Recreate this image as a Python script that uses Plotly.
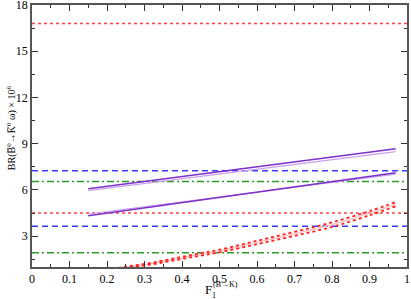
import plotly.graph_objects as go

# Horizontal reference levels
red_levels = [16.8, 4.5]
blue_levels = [7.25, 3.64]
green_levels = [6.55, 1.92]

# Purple bands (x from 0.15 to 0.97)
purple_x = [0.15, 0.97]
purple_up_dark = [6.08, 8.67]
purple_up_light = [5.95, 8.49]
purple_lo_dark = [4.33, 7.11]
purple_lo_light = [4.44, 7.02]

# Red curves
red_x = [0.15, 0.2, 0.25, 0.3, 0.35, 0.4, 0.45, 0.5, 0.6, 0.7, 0.8, 0.9, 0.97]
red_upper = [0.7, 0.85, 1.02, 1.2, 1.42, 1.66, 1.9, 2.12, 2.7, 3.28, 3.9, 4.62, 5.22]
red_lower = [0.65, 0.8, 0.95, 1.1, 1.3, 1.52, 1.74, 1.95, 2.48, 3.02, 3.6, 4.35, 4.94]
red_mid = [(a + b) / 2 for a, b in zip(red_upper, red_lower)]

x_ticks = [0, 0.1, 0.2, 0.3, 0.4, 0.5, 0.6, 0.7, 0.8, 0.9, 1]
x_labels = ["0", "0.1", "0.2", "0.3", "0.4", "0.5", "0.6", "0.7", "0.8", "0.9", "1"]
y_ticks = [3, 6, 9, 12, 15, 18]

fig = go.Figure()

def hline(y, color, dash, width=1.5):
    fig.add_trace(go.Scatter(x=[0, 1], y=[y, y], mode="lines",
                             line=dict(color=color, dash=dash, width=width),
                             showlegend=False, hoverinfo="skip"))

for y in red_levels:
    hline(y, "#ff4040", "dot", 1.6)
for y in blue_levels:
    hline(y, "#3a3aff", "6px,4px", 1.6)
for y in green_levels:
    hline(y, "#2a9a2a", "7px,3px,2px,3px", 1.4)

for ys, c, w in [(purple_up_light, "#c8a0ec", 1.2), (purple_up_dark, "#7e30c8", 1.5),
                 (purple_lo_light, "#c8a0ec", 1.2), (purple_lo_dark, "#7e30c8", 1.5)]:
    fig.add_trace(go.Scatter(x=purple_x, y=ys, mode="lines",
                             line=dict(color=c, width=w), showlegend=False))

fig.add_trace(go.Scatter(x=red_x, y=red_mid, mode="lines",
                         line=dict(color="#ffb8b8", width=1.2, shape="spline"), showlegend=False))
for ys in [red_upper, red_lower]:
    fig.add_trace(go.Scatter(x=red_x, y=ys, mode="lines",
                             line=dict(color="#ff2020", width=1.8, dash="dot", shape="spline"),
                             showlegend=False))

serif = "Liberation Serif"
font = dict(family=serif, size=12, color="black")

fig.update_layout(
    width=411, height=299,
    margin=dict(l=32, r=4, t=5, b=32),
    paper_bgcolor="white", plot_bgcolor="white",
    font=font,
    xaxis=dict(range=[0, 1], tickvals=x_ticks, ticktext=x_labels,
               ticks="inside", ticklen=6, tickcolor="#333", tickwidth=1,
               minor=dict(ticks="inside", ticklen=3, dtick=0.05, tickcolor="#333"),
               showline=True, linecolor="#555", linewidth=1.5, mirror="ticks",
               showgrid=False, zeroline=False, automargin=False,
               ticklabeloverflow="allow"),
    yaxis=dict(range=[1, 18], tickvals=y_ticks,
               ticks="inside", ticklen=6, tickcolor="#333", tickwidth=1,
               minor=dict(ticks="inside", ticklen=3, tickvals=[1.5, 4.5, 7.5, 10.5, 13.5, 16.5], tickcolor="#333"),
               showline=True, linecolor="#555", linewidth=1.5, mirror="ticks",
               showgrid=False, zeroline=False, automargin=False,
               ticklabeloverflow="allow"),
    annotations=[
        dict(text="F", xref="paper", yref="paper", x=0.470, y=-0.085,
             xanchor="center", yanchor="middle", showarrow=False,
             font=dict(family=serif, size=13)),
        dict(text="(B→K)", xref="paper", yref="paper", x=0.516, y=-0.066,
             xanchor="center", yanchor="middle", showarrow=False,
             font=dict(family=serif, size=8)),
        dict(text="1", xref="paper", yref="paper", x=0.486, y=-0.110,
             xanchor="center", yanchor="middle", showarrow=False,
             font=dict(family=serif, size=8)),
        dict(text="BR(B\u0305<sup>0</sup>→K\u0305<sup>0</sup> ω) × 10<sup>6</sup>",
             xref="paper", yref="paper", x=-0.056, y=0.53, xanchor="center", yanchor="middle",
             textangle=-90, showarrow=False, font=dict(family=serif, size=10)),
    ],
)

fig.write_html("out.html", config={"displayModeBar": False},
               post_script="document.body.style.margin='0';document.body.style.overflow='hidden';")
